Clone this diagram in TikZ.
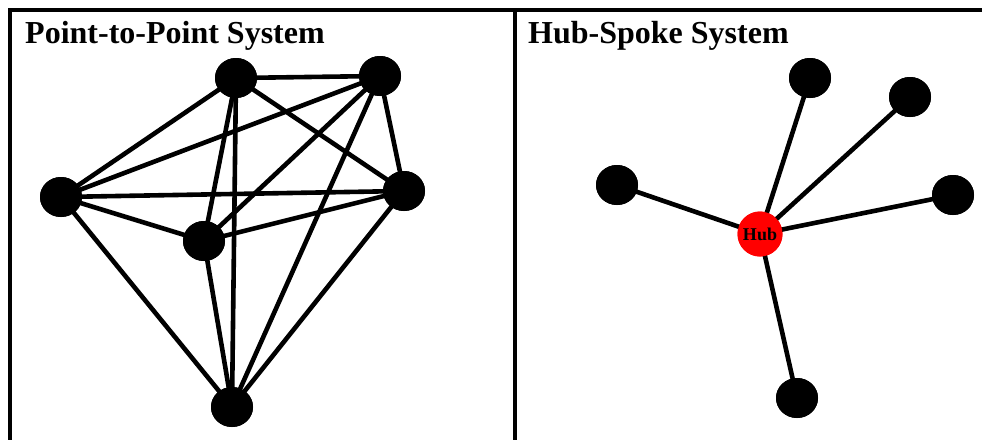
\documentclass[tikz,border=0pt]{standalone}
\usepackage{fontspec}
\setmainfont{Liberation Serif}
\usetikzlibrary{shapes.geometric}
\begin{document}
\begin{tikzpicture}[x=1pt,y=-1pt,
  dot/.style={ellipse,fill=black,minimum width=42pt,minimum height=40pt,inner sep=0pt},
  hub/.style={circle,fill=red,minimum size=45pt,inner sep=0pt,font=\bfseries\fontsize{18}{18}\selectfont},
  edge/.style={line width=4.6pt,line cap=round},
  frame/.style={line width=4pt},
  title/.style={anchor=base west,inner sep=0pt,font=\bfseries\fontsize{32}{32}\selectfont}]
\useasboundingbox (0,0) rectangle (982,439);
% frame
\coordinate (tl) at (9.7,10);
\coordinate (tr) at (984,10);
\coordinate (bl) at (9.7,441);
\coordinate (mt) at (514.7,10);
\coordinate (mb) at (514.7,441);
\draw[frame] (bl) -- (tl) -- (tr);
\draw[frame] (mt) -- (mb);
% titles
\node[title] (t1) at (25,43) {Point-to-Point System};
\node[title] (t2) at (528,43) {Hub-Spoke System};
% left panel nodes
\node[dot] (A) at (236,78) {};
\node[dot] (B) at (380,76) {};
\node[dot] (C) at (61,197) {};
\node[dot] (D) at (404,191) {};
\node[dot] (E) at (204,241) {};
\node[dot] (F) at (232,407) {};
\foreach \u/\v in {A/B,A/C,A/D,A/E,A/F,B/C,B/D,B/E,B/F,C/D,C/E,C/F,D/E,D/F,E/F}
  \draw[edge] (\u.center) -- (\v.center);
% right panel nodes
\node[dot] (P) at (810,78) {};
\node[dot] (Q) at (910,97) {};
\node[dot] (R) at (617,185) {};
\node[dot] (S) at (953,195) {};
\node[dot] (T) at (797,398) {};
\node[hub] (H) at (760,234) {};
\foreach \v in {P,Q,R,S,T}
  \draw[edge] (H.center) -- (\v.center);
% redraw nodes on top
\foreach \n/\x/\y in {A/236/78,B/380/76,C/61/197,D/404/191,E/204/241,F/232/407,P/810/78,Q/910/97,R/617/185,S/953/195,T/797/398}
  \fill (\x,\y) ellipse (21 and 20);
\node[hub] (H2) at (760,234) {Hub};
\end{tikzpicture}
\end{document}
